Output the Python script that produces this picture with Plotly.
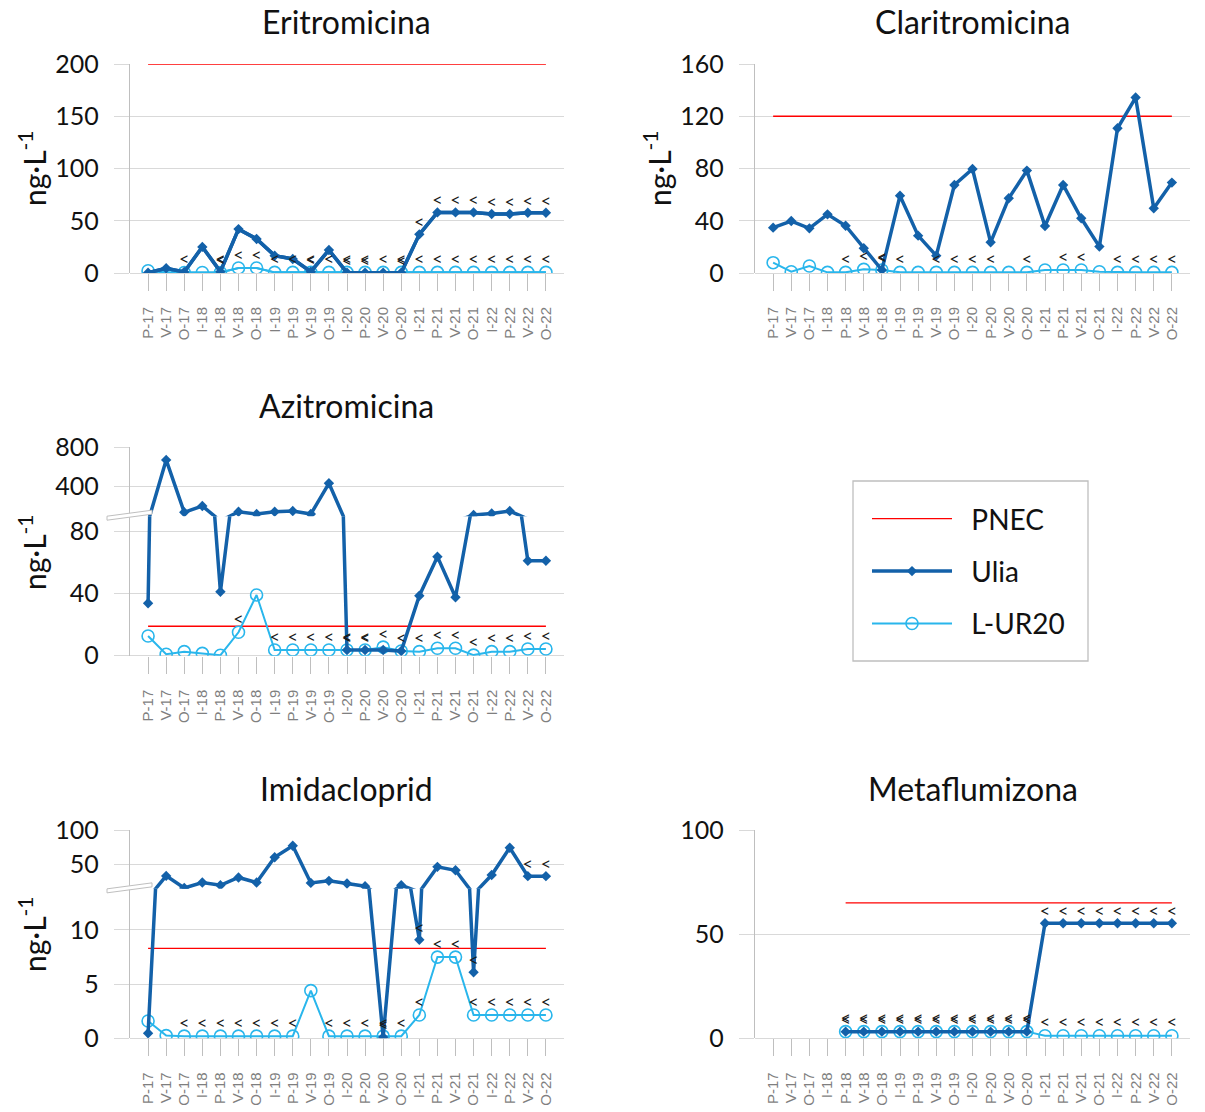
import math
import plotly.graph_objects as go

W, H = 1205, 1112

categories = ["P-17", "V-17", "O-17", "I-18", "P-18", "V-18", "O-18", "I-19",
              "P-19", "V-19", "O-19", "I-20", "P-20", "V-20", "O-20", "I-21",
              "P-21", "V-21", "O-21", "I-22", "P-22", "V-22", "O-22"]

# --- Eritromicina ---
eri_ulia = [0.3, 4.5, 1.0, 25, 1.3, 42, 32.6, 16.6, 13.4, 1.3, 22, 0.3, 0.3, 0.3, 0.3,
            37, 58, 58, 58, 56.5, 56.5, 57.6, 57.6]
eri_lur = [2.2, 0.5, 0.5, 0.5, 0.5, 4.8, 4.8, 0.6, 0.6, 0.6, 0.6, 0.6, 0.6, 0.6, 0.6,
           0.6, 0.6, 0.6, 0.6, 0.6, 0.6, 0.6, 0.6]
eri_pnec = [200] * 23
eri_ulia_lt = [4, 9, 11, 12, 14, 15, 16, 17, 18, 19, 20, 21, 22]
eri_lur_lt = [2, 4, 5, 6, 7, 8, 9, 10, 11, 12, 13, 14, 15, 16, 17, 18, 19, 20, 21, 22]

# --- Claritromicina ---
cla_ulia = [34.7, 39.8, 34.2, 44.9, 36.2, 18.9, 2.3, 59.2, 28.6, 13.3, 67.4, 79.6, 23.5,
            57.2, 78.4, 36, 67.4, 41.9, 20.2, 110.8, 134.3, 49.5, 69.2]
cla_lur = [7.9, 1.0, 5.4, 0.5, 0.5, 2.8, 2.3, 0.5, 0.5, 0.5, 0.5, 0.5, 0.5, 0.5, 0.5,
           2.3, 2.3, 2.3, 1.0, 0.5, 0.5, 0.5, 0.5]
cla_pnec = [120] * 23
cla_ulia_lt = [6]
cla_lur_lt = [4, 5, 6, 7, 9, 10, 11, 12, 14, 16, 17, 19, 20, 21, 22]

# --- Azitromicina (broken axis) ---
azi_ulia = [33.8, 670, 130, 195, 41.3, 136, 112, 136, 143, 112, 429, 3.7, 3.7, 3.7, 3.0,
            38.7, 63.9, 37.7, 102, 119, 143, 61.3, 61.3]
azi_lur = [12.7, 0.9, 2.6, 1.5, 0.3, 15.1, 39.2, 3.7, 3.7, 3.7, 3.7, 3.7, 3.7, 5.5, 3.0,
           2.6, 4.8, 4.8, 0.4, 2.6, 2.6, 4.3, 4.3]
azi_pnec = [19] * 23
azi_ulia_lt = [11, 12]
azi_lur_lt = [5, 7, 8, 9, 10, 11, 12, 13, 14, 15, 16, 17, 18, 19, 20, 21, 22]
azi_break = 90

# --- Imidacloprid (broken axis) ---
imi_ulia = [0.46, 32.8, 15, 23, 19, 30.5, 23, 60, 77, 22.5, 25.5, 21.6, 17.6, 0.1, 19,
            9.1, 46, 41, 6.1, 34, 74, 32.4, 32.4]
imi_lur = [1.6, 0.25, 0.2, 0.2, 0.2, 0.2, 0.2, 0.2, 0.2, 4.4, 0.2, 0.2, 0.2, 0.2, 0.2,
           2.15, 7.5, 7.5, 2.15, 2.15, 2.15, 2.15, 2.15]
imi_pnec = [8.3] * 23
imi_ulia_lt = [13, 15, 18, 21, 22]
imi_lur_lt = [2, 3, 4, 5, 6, 7, 8, 10, 11, 12, 13, 14, 15, 16, 17, 18, 19, 20, 21, 22]
imi_break = 13.8

# --- Metaflumizona ---
met_ulia = [None] * 4 + [3.2] * 11 + [55.2] * 8
met_lur = [None] * 4 + [3.2] * 11 + [1.25] * 8
met_pnec = [None] * 4 + [65] * 19
met_ulia_lt = list(range(4, 23))
met_lur_lt = list(range(4, 23))

C_PNEC = "#FF0000"
C_ULIA = "#1361A9"
C_LUR = "#29B6EC"
C_GRID = "#D9D9D9"
C_AXIS = "#BFBFBF"
C_TEXT = "#111111"
FONT = "Lato"
PAD = "\u00a0\u00a0"  # gap between legend sample and label

ULIA_SIZE = 8
LUR_SIZE = 12


def px_x(p):
    return p / W


def px_y(p):
    return 1 - p / H


def in_range(values, lo, hi):
    return [v if (v is not None and lo <= v <= hi) else None for v in values]


fig = go.Figure()


def add_panel(xa, ya, pnec, lur, ulia, lur_lt, ulia_lt, lo=-math.inf, hi=math.inf,
              legend=False):
    """Draw PNEC, L-UR20 and Ulia on one (x, y) pair; markers and '<' flags are
    limited to the values that fall inside [lo, hi]."""
    fig.add_trace(go.Scatter(
        x=categories, y=pnec, xaxis=xa, yaxis=ya, mode="lines", name=PAD + "PNEC",
        line=dict(color=C_PNEC, width=1.3), hoverinfo="skip",
        showlegend=legend, legendgroup="pnec", legendrank=1))

    series = [
        ("L-UR20", lur, dict(color=C_LUR, width=2),
         dict(symbol="circle-open", size=LUR_SIZE, color=C_LUR, line=dict(width=1.6)),
         "lur", 3),
        ("Ulia", ulia, dict(color=C_ULIA, width=3.5),
         dict(symbol="diamond", size=ULIA_SIZE, color=C_ULIA), "ulia", 2),
    ]
    for name, vals, line, marker, group, rank in series:
        # connecting line over the full series (clipped by the axis range)
        fig.add_trace(go.Scatter(
            x=categories, y=vals, xaxis=xa, yaxis=ya, mode="lines", name=name,
            line=line, hoverinfo="skip", showlegend=False, legendgroup=group))
        # point markers that lie inside this axis segment
        fig.add_trace(go.Scatter(
            x=categories, y=in_range(vals, lo, hi), xaxis=xa, yaxis=ya,
            mode="lines+markers" if legend else "markers", name=PAD + name,
            line=line, marker=marker, showlegend=legend, legendgroup=group,
            legendrank=rank))

    # "<" flags (values below the quantification limit)
    for vals, flags, size in ((lur, lur_lt, 3), (ulia, ulia_lt, 1)):
        keep = [i for i in flags if vals[i] is not None and lo <= vals[i] <= hi]
        if not keep:
            continue
        fig.add_trace(go.Scatter(
            x=[categories[i] for i in keep], y=[vals[i] for i in keep],
            xaxis=xa, yaxis=ya, mode="markers+text", text=["<"] * len(keep),
            textposition="top center", marker=dict(size=size, opacity=0),
            textfont=dict(family=FONT, size=18, color="#1A1A1A"),
            hoverinfo="skip", showlegend=False))


# panel frames in pixels
LEFT = (130, 564)
RIGHT = (755, 1190)
ROW1 = (64, 273)
ROW2 = (447.3, 655.7)
ROW3 = (830, 1038.3)

xcommon = dict(
    type="category", range=[-1, 23], showgrid=False, zeroline=False, showline=False,
    ticks="outside", ticklen=17, tickcolor=C_AXIS, tickwidth=1.3, tickangle=-90,
    tickfont=dict(family="Liberation Sans", size=15, color="#7F7F7F"),
    ticklabelstandoff=10, automargin=False,
)
ycommon = dict(
    showgrid=True, gridcolor=C_GRID, gridwidth=1.3, zeroline=True, zerolinecolor=C_GRID,
    zerolinewidth=1.3, showline=True, linecolor=C_AXIS, linewidth=1.3,
    ticks="outside", ticklen=15, tickcolor=C_GRID, tickwidth=1.3,
    tickfont=dict(family=FONT, size=25, color=C_TEXT), ticklabelstandoff=10,
    automargin=False,
)


def xdom(col):
    return [px_x(col[0]), px_x(col[1])]


def ydom(top, bottom):
    return [px_y(bottom), px_y(top)]


layout = {}
layout["xaxis"] = dict(xcommon, domain=xdom(LEFT), anchor="y")
layout["yaxis"] = dict(ycommon, domain=ydom(*ROW1), anchor="x", range=[0, 200],
                       tickvals=[0, 50, 100, 150, 200])
layout["xaxis2"] = dict(xcommon, domain=xdom(RIGHT), anchor="y2")
layout["yaxis2"] = dict(ycommon, domain=ydom(*ROW1), anchor="x2", range=[0, 160],
                        tickvals=[0, 40, 80, 120, 160])

azi_low_px = 62.0 / 40
azi_split = ROW2[1] - azi_break * azi_low_px
layout["xaxis3"] = dict(xcommon, domain=xdom(LEFT), anchor="y3")
layout["yaxis3"] = dict(ycommon, domain=ydom(azi_split, ROW2[1]), anchor="x3",
                        range=[0, azi_break], tickvals=[0, 40, 80])
layout["yaxis4"] = dict(ycommon, domain=ydom(ROW2[0], azi_split), anchor="x3",
                        range=[azi_break, 800], tickvals=[400, 800], zeroline=False)

imi_low_px = 108.3 / 10
imi_split = ROW3[1] - imi_break * imi_low_px
layout["xaxis4"] = dict(xcommon, domain=xdom(LEFT), anchor="y5")
layout["yaxis5"] = dict(ycommon, domain=ydom(imi_split, ROW3[1]), anchor="x4",
                        range=[0, imi_break], tickvals=[0, 5, 10])
layout["yaxis6"] = dict(ycommon, domain=ydom(ROW3[0], imi_split), anchor="x4",
                        range=[imi_break, 100], tickvals=[50, 100], zeroline=False)

layout["xaxis5"] = dict(xcommon, domain=xdom(RIGHT), anchor="y7")
layout["yaxis7"] = dict(ycommon, domain=ydom(*ROW3), anchor="x5", range=[0, 100],
                        tickvals=[0, 50, 100])

add_panel("x", "y", eri_pnec, eri_lur, eri_ulia, eri_lur_lt, eri_ulia_lt, legend=True)
add_panel("x2", "y2", cla_pnec, cla_lur, cla_ulia, cla_lur_lt, cla_ulia_lt)
add_panel("x3", "y3", azi_pnec, azi_lur, azi_ulia, azi_lur_lt, azi_ulia_lt,
          lo=0, hi=azi_break)
add_panel("x3", "y4", azi_pnec, azi_lur, azi_ulia, azi_lur_lt, azi_ulia_lt,
          lo=azi_break, hi=800)
add_panel("x4", "y5", imi_pnec, imi_lur, imi_ulia, imi_lur_lt, imi_ulia_lt,
          lo=0, hi=imi_break)
add_panel("x4", "y6", imi_pnec, imi_lur, imi_ulia, imi_lur_lt, imi_ulia_lt,
          lo=imi_break, hi=100)
add_panel("x5", "y7", met_pnec, met_lur, met_ulia, met_lur_lt, met_ulia_lt)

annotations = []
titles = [("Eritromicina", LEFT, 22), ("Claritromicina", RIGHT, 22),
          ("Azitromicina", LEFT, 405), ("Imidacloprid", LEFT, 788),
          ("Metaflumizona", RIGHT, 788)]
for txt, col, yc in titles:
    annotations.append(dict(
        text=txt, x=px_x((col[0] + col[1]) / 2), y=px_y(yc), xref="paper", yref="paper",
        showarrow=False, xanchor="center", yanchor="middle",
        font=dict(family=FONT, size=32, color=C_TEXT)))

ytitles = [(32, 168), (657, 168), (32, 552), (32, 934)]
for xc, yc in ytitles:
    annotations.append(dict(
        text="ng·L<sup>-1</sup>", x=px_x(xc), y=px_y(yc), xref="paper", yref="paper",
        showarrow=False, textangle=-90, xanchor="center", yanchor="middle",
        font=dict(family=FONT, size=30, color=C_TEXT)))

shapes = []
# axis break symbols
for yb in (azi_split + 1, imi_split + 1):
    x0, x1 = 107, 152
    path = (f"M {px_x(x0)},{px_y(yb + 3)} L {px_x(x1)},{px_y(yb - 3)} "
            f"L {px_x(x1)},{px_y(yb - 7)} L {px_x(x0)},{px_y(yb - 1)} Z")
    shapes.append(dict(type="path", path=path, xref="paper", yref="paper",
                       fillcolor="white", line=dict(color=C_AXIS, width=1), layer="above"))
# legend frame
shapes.append(dict(type="rect", xref="paper", yref="paper",
                   x0=px_x(853), x1=px_x(1088), y0=px_y(661), y1=px_y(481),
                   line=dict(color=C_AXIS, width=1.3), fillcolor="rgba(0,0,0,0)"))

fig.update_layout(
    **layout,
    width=W, height=H,
    margin=dict(l=0, r=0, t=0, b=0, autoexpand=False),
    paper_bgcolor="white", plot_bgcolor="white",
    annotations=annotations, shapes=shapes,
    showlegend=True,
    legend=dict(x=px_x(867), y=px_y(494), xanchor="left", yanchor="top",
                bgcolor="rgba(0,0,0,0)", borderwidth=0, itemwidth=80,
                tracegroupgap=13, traceorder="grouped",
                font=dict(family=FONT, size=28, color=C_TEXT)),
)

fig.write_html("out.html")
